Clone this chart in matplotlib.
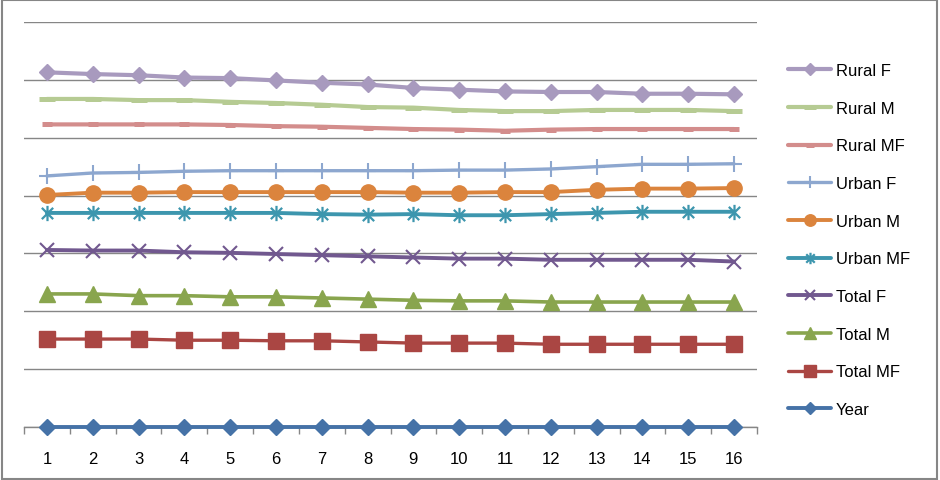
import matplotlib
matplotlib.use("Agg")
import matplotlib.pyplot as plt
from matplotlib.path import Path
from matplotlib.patches import Rectangle
import numpy as np

plt.rcParams['font.family'] = ['Liberation Sans', 'DejaVu Sans']

years = list(range(1, 17))

rural_f = [6.13, 6.10, 6.08, 6.04, 6.03, 5.99, 5.95, 5.92, 5.86, 5.83, 5.80, 5.79, 5.79, 5.76, 5.76, 5.75]
rural_m = [5.67, 5.67, 5.65, 5.65, 5.62, 5.60, 5.57, 5.53, 5.52, 5.48, 5.46, 5.46, 5.48, 5.48, 5.48, 5.46]
rural_mf = [5.23, 5.23, 5.23, 5.23, 5.22, 5.20, 5.19, 5.17, 5.15, 5.14, 5.12, 5.14, 5.15, 5.15, 5.15, 5.15]
urban_f = [4.34, 4.39, 4.40, 4.42, 4.43, 4.43, 4.43, 4.43, 4.43, 4.44, 4.44, 4.46, 4.50, 4.54, 4.54, 4.55]
urban_m = [4.01, 4.05, 4.05, 4.06, 4.06, 4.06, 4.06, 4.06, 4.05, 4.05, 4.06, 4.06, 4.10, 4.12, 4.12, 4.13]
urban_mf = [3.70, 3.70, 3.70, 3.70, 3.70, 3.70, 3.68, 3.67, 3.68, 3.66, 3.66, 3.68, 3.70, 3.72, 3.72, 3.72]
total_f = [3.06, 3.05, 3.05, 3.02, 3.01, 2.99, 2.97, 2.95, 2.93, 2.91, 2.91, 2.89, 2.89, 2.89, 2.89, 2.86]
total_m = [2.30, 2.30, 2.27, 2.27, 2.25, 2.25, 2.23, 2.21, 2.19, 2.18, 2.18, 2.16, 2.16, 2.16, 2.16, 2.16]
total_mf = [1.52, 1.52, 1.52, 1.50, 1.50, 1.49, 1.49, 1.47, 1.45, 1.45, 1.45, 1.43, 1.43, 1.43, 1.43, 1.43]
year_s = [0.0] * 16

star = Path([(-1, -1), (1, 1), (-1, 1), (1, -1), (0, -1.35), (0, 1.35)],
            [Path.MOVETO, Path.LINETO, Path.MOVETO, Path.LINETO, Path.MOVETO, Path.LINETO])

series = [
    ("Rural F", rural_f, '#A89ABE', dict(marker='D', ms=8, mew=1, lw=3.0)),
    ("Rural M", rural_m, '#B6CB93', dict(marker='_', ms=11, mew=3.6, lw=3.0)),
    ("Rural MF", rural_mf, '#D38D8C', dict(marker='_', ms=7, mew=3.6, lw=3.0)),
    ("Urban F", urban_f, '#8DA7CF', dict(marker='+', ms=11, mew=1.5, lw=2.4)),
    ("Urban M", urban_m, '#DB843D', dict(marker='o', ms=11, mew=1, lw=2.8)),
    ("Urban MF", urban_mf, '#3D96AE', dict(marker=star, ms=11, mew=1.6, lw=2.8)),
    ("Total F", total_f, '#71588F', dict(marker='x', ms=9.5, mew=1.5, lw=2.8)),
    ("Total M", total_m, '#89A54E', dict(marker='^', ms=11, mew=1, lw=2.6)),
    ("Total MF", total_mf, '#AA4643', dict(marker='s', ms=11, mew=1, lw=2.4)),
    ("Year", year_s, '#4572A7', dict(marker='D', ms=8, mew=1, lw=2.8)),
]

fig = plt.figure(figsize=(9.4, 4.81), dpi=100)
ax = fig.add_axes([24/940, 1-428/481, (757-24)/940, (428-23)/481])

for name, vals, col, kw in reversed(series):
    ax.plot(years, vals, color=col, mfc=col, mec=col, label=name,
            solid_capstyle='round', clip_on=False, zorder=3, **kw)

ax.set_xlim(0.5, 16.5)
ax.set_ylim(0, 7)
ax.set_yticks(np.arange(0, 8, 1))
ax.set_yticklabels([])
ax.tick_params(axis='y', length=0)
ax.grid(axis='y', color='#868686', lw=1.0)
ax.set_axisbelow(True)
for s in ['top', 'right', 'left']:
    ax.spines[s].set_visible(False)
ax.spines['bottom'].set_color('#868686')
ax.spines['bottom'].set_linewidth(1.0)
ax.set_xticks(years)
ax.set_xticklabels([str(y) for y in years], fontsize=12)
ax.set_xticks(np.arange(0.5, 17, 1), minor=True)
ax.tick_params(axis='x', which='major', length=0, pad=17)
ax.tick_params(axis='x', which='minor', length=5, color='#868686', width=1)

handles, labels = ax.get_legend_handles_labels()
handles = handles[::-1]
labels = labels[::-1]
leg = ax.legend(handles, labels, loc='upper left', bbox_to_anchor=(788/940, 1-64/481),
                bbox_transform=fig.transFigure, frameon=False, borderpad=0,
                borderaxespad=0, handlelength=2.6, handletextpad=0.25,
                labelspacing=1.36, fontsize=12, markerscale=0.75)

fig.patches.append(Rectangle((0.002, 0.002), 0.995, 0.995, transform=fig.transFigure,
                             fill=False, edgecolor='#868686', lw=1.5))

fig.savefig("out.png", dpi=100)
